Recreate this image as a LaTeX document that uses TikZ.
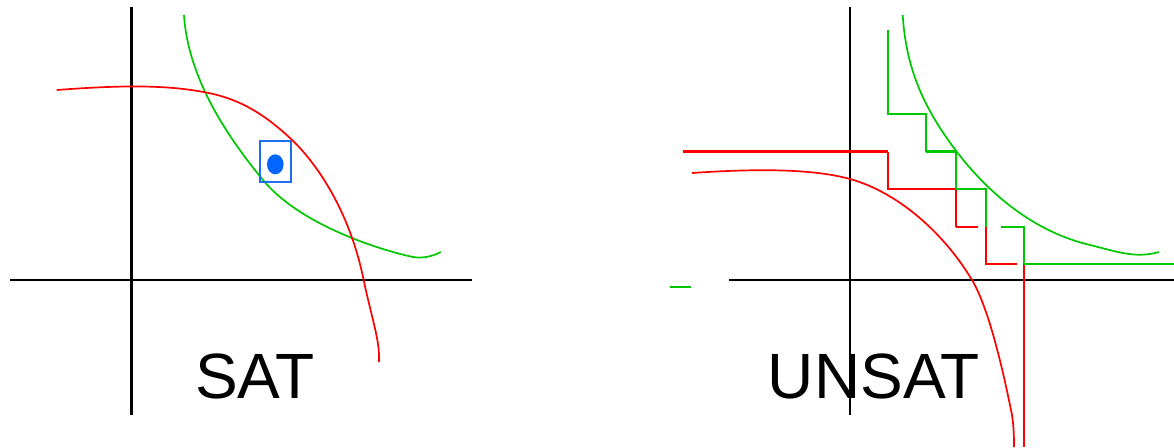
\documentclass[tikz,border=0pt]{standalone}
\usepackage{fontspec}
\setmainfont{Liberation Sans}
\definecolor{cred}{RGB}{255,0,0}
\definecolor{cgreen}{RGB}{0,200,0}
\definecolor{cblue}{RGB}{0,102,255}
\definecolor{cbox}{RGB}{30,110,235}
\begin{document}
\begin{tikzpicture}[x=1pt,y=-1pt,
  axis/.style={black,line width=2.6pt},
  rcurve/.style={cred,line width=1.7pt},
  gcurve/.style={cgreen,line width=1.7pt},
  rstair/.style={cred,line width=1.8pt},
  gstair/.style={cgreen,line width=1.8pt},
  thick stair/.style={line width=2.8pt},
  lbl/.style={font=\fontsize{64}{64}\selectfont, inner sep=0pt, anchor=base}]
\useasboundingbox (0,0) rectangle (1174,447);
% ---------- SAT panel ----------
\draw[axis] (131.7,7) -- (131.7,415);
\draw[axis] (10,280) -- (471.7,280);
\draw[gcurve] (184,15) .. controls (188,80) and (230,140) .. (263,180)
  .. controls (300,225) and (380,250) .. (413,257)
  .. controls (425,259) and (435,255) .. (440.7,252);
\draw[rcurve] (56.7,90) .. controls (110,86) and (160,84) .. (201.7,91.7)
  .. controls (240,98) and (265,115) .. (290,138)
  .. controls (320,166) and (350,215) .. (363,277)
  .. controls (372,320) and (380,340) .. (379,362);
\draw[cbox,line width=1.8pt] (260,141) rectangle (290.7,181.7);
\fill[cblue] (275.3,164.3) ellipse [x radius=8.3, y radius=10];
\node[lbl] (sat) at (255,398) {SAT};
% ---------- UNSAT panel ----------
\draw[axis] (850,7) -- (850,415);
\draw[axis] (729,280) -- (1174,280);
\draw[cgreen,line width=1.6pt] (670,287) -- (691,287);
% red curve
\draw[rcurve] (692,173) .. controls (750,169) and (810,168) .. (850,179)
  .. controls (900,193) and (945,235) .. (972,280)
  .. controls (990,310) and (1005,380) .. (1012,415)
  .. controls (1014,428) and (1014,440) .. (1014,447);
% green curve
\draw[gcurve] (902.7,15) .. controls (906,70) and (925,110) .. (956.7,151.7)
  .. controls (990,195) and (1035,232) .. (1090,245)
  .. controls (1115,251) and (1135,259) .. (1159,252);
% red staircase
\draw[rstair] (888,151.7) -- (888,189) -- (956,189);
\draw[rstair,thick stair] (683,151.7) -- (888,151.7);
\draw[rstair,thick stair] (956,189) -- (956,227);
\draw[rstair] (956,227) -- (978,227);
\draw[rstair,thick stair] (986,227) -- (986,264) -- (1017,264);
\draw[rstair] (1023.7,264) -- (1023.7,447);
% green staircase
\draw[gstair] (888,30) -- (888,113.7) -- (926,113.7) -- (926,151.7);
\draw[gstair,thick stair] (926,151.7) -- (956,151.7) -- (956,189);
\draw[gstair] (956,189) -- (986,189) -- (986,227);
\draw[gstair] (1001,227) -- (1023.7,227) -- (1023.7,264);
\draw[gstair,thick stair] (1023.7,264) -- (1174,264);
\node[lbl] (unsat) at (874,398) {UNSAT};
\end{tikzpicture}
\end{document}
